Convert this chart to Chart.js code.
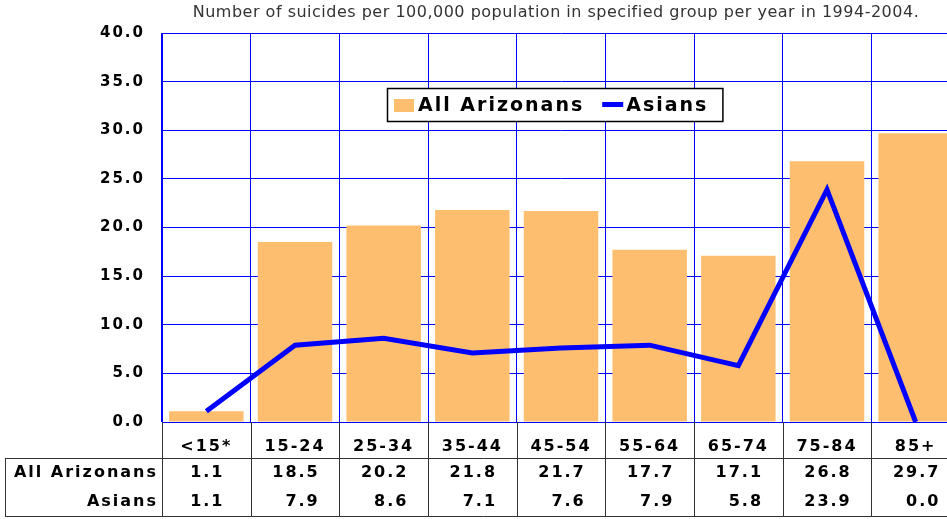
<!DOCTYPE html>
<html>
<head>
<meta charset="utf-8">
<script src="https://cdn.jsdelivr.net/npm/chart.js@4.4.1/dist/chart.umd.min.js"></script>
<style>
  html, body { margin: 0; padding: 0; background: #fff; overflow: hidden; }
  #wrap { width: 962px; height: 519px; }
</style>
</head>
<body>
<div id="wrap"><canvas id="suicide-chart" width="962" height="519"></canvas></div>
<script>
var ageGroups = ['<15*', '15-24', '25-34', '35-44', '45-54', '55-64', '65-74', '75-84', '85+'];
var allArizonans = [1.1, 18.5, 20.2, 21.8, 21.7, 17.7, 17.1, 26.8, 29.7];
var asians = [1.1, 7.9, 8.6, 7.1, 7.6, 7.9, 5.8, 23.9, 0.0];
var yMax = 40;
var yStep = 5;
var titleText = 'Number of suicides per 100,000 population in specified group per year in 1994-2004.';

var boldFont = '700 16px "DejaVu Sans"';

// keeps the wide letter spacing of the original on every text drawn by the chart
var spacingPlugin = {
    id: 'spacing',
    beforeLayout: function (chart) { chart.ctx.letterSpacing = '2px'; },
    beforeDraw: function (chart) { chart.ctx.letterSpacing = '2px'; }
};

var titlePlugin = {
    id: 'topTitle',
    afterDraw: function (chart) {
        var ctx = chart.ctx;
        ctx.save();
        ctx.letterSpacing = '0.5px';
        ctx.font = '400 16px "DejaVu Sans"';
        ctx.fillStyle = '#333';
        ctx.textAlign = 'center';
        ctx.textBaseline = 'middle';
        ctx.fillText(titleText, 556, 13);
        ctx.restore();
    }
};

var legendPlugin = {
    id: 'boxLegend',
    afterDatasetsDraw: function (chart) {
        var ctx = chart.ctx;
        var sets = chart.data.datasets;
        ctx.save();
        ctx.letterSpacing = '2px';
        ctx.font = '700 19px "DejaVu Sans"';
        var widths = sets.map(function (d) { return ctx.measureText(d.label).width; });
        var sw = 21, gapIn = 3, gapOut = 18, padL = 7, padR = 15;
        var total = padL + padR + sets.length * (sw + gapIn) + widths.reduce((a, b) => a + b, 0) + gapOut * (sets.length - 1);
        var cx = 555, cy = 105;
        var left = Math.round(cx - total / 2);
        ctx.fillStyle = '#fff';
        ctx.fillRect(left, cy - 17, total, 34);
        ctx.strokeStyle = '#000';
        ctx.lineWidth = 1.5;
        ctx.strokeRect(left + 0.5, cy - 16.5, total - 1, 33);
        var x = left + padL;
        sets.forEach(function (d, i) {
            if (d.type === 'line') {
                ctx.fillStyle = d.borderColor;
                ctx.fillRect(x, cy - 3, sw, 5);
            } else {
                ctx.fillStyle = d.backgroundColor;
                ctx.fillRect(x, cy - 6, sw - 1, 13);
            }
            x += sw + gapIn;
            ctx.fillStyle = '#000';
            ctx.textAlign = 'left';
            ctx.textBaseline = 'middle';
            ctx.fillText(d.label, x, cy + 1);
            x += widths[i] + gapOut;
        });
        ctx.restore();
    }
};

var tablePlugin = {
    id: 'dataTable',
    afterDraw: function (chart) {
        var ctx = chart.ctx;
        var xs = chart.scales.x;
        var area = chart.chartArea;
        var colW = (area.right - area.left) / ageGroups.length;
        var rowLine = 458, bottom = 516, leftEdge = 5;
        ctx.save();
        ctx.strokeStyle = '#333';
        ctx.lineWidth = 1;
        ctx.beginPath();
        ctx.moveTo(leftEdge, rowLine + 0.5);
        ctx.lineTo(chart.width, rowLine + 0.5);
        ctx.moveTo(leftEdge, bottom + 0.5);
        ctx.lineTo(chart.width, bottom + 0.5);
        ctx.moveTo(leftEdge + 0.5, rowLine);
        ctx.lineTo(leftEdge + 0.5, bottom);
        for (var i = 0; i <= ageGroups.length; i++) {
            var bx = Math.round(area.left + i * colW) + 0.5;
            ctx.moveTo(bx, area.bottom);
            ctx.lineTo(bx, bottom);
        }
        ctx.stroke();

        ctx.letterSpacing = '2px';
        ctx.font = boldFont;
        ctx.fillStyle = '#000';
        ctx.textBaseline = 'middle';
        var rows = [
            { label: 'All Arizonans', values: allArizonans, y: 473 },
            { label: 'Asians', values: asians, y: 502 }
        ];
        rows.forEach(function (r) {
            ctx.textAlign = 'right';
            ctx.fillText(r.label, 158, r.y);
        });
        ageGroups.forEach(function (g, i) {
            var texts = rows.map(function (r) { return r.values[i].toFixed(1); });
            var w = Math.max.apply(null, texts.map(function (t) { return ctx.measureText(t).width; }));
            var right = xs.getPixelForValue(i) + w / 2 + 1;
            rows.forEach(function (r, k) {
                ctx.textAlign = 'right';
                ctx.fillText(texts[k], right, r.y);
            });
        });
        ctx.restore();
    }
};

var ctx = document.getElementById('suicide-chart').getContext('2d');

var suicideChart = new Chart(ctx, {
    data: {
        labels: ageGroups,
        datasets: [{
            type: 'bar',
            label: 'All Arizonans',
            data: allArizonans,
            backgroundColor: '#fdbf6f',
            borderWidth: 0,
            barPercentage: 0.84,
            categoryPercentage: 1,
            order: 2
        }, {
            type: 'line',
            label: 'Asians',
            data: asians,
            borderColor: '#0000ff',
            backgroundColor: '#0000ff',
            borderWidth: 5,
            pointRadius: 0,
            tension: 0,
            order: 1
        }]
    },
    options: {
        responsive: false,
        animation: false,
        layout: {
            padding: { top: 33, right: 2, left: 0, bottom: 0 }
        },
        scales: {
            x: {
                grid: { color: '#0000ff', lineWidth: 1, drawTicks: false, offset: true },
                border: { color: '#0000ff' },
                ticks: {
                    color: '#000',
                    font: { family: 'DejaVu Sans', size: 16, weight: 'bold' },
                    padding: 15,
                    maxRotation: 0,
                    autoSkip: false
                },
                afterFit: function (scale) { scale.height = 97; }
            },
            y: {
                min: 0,
                max: yMax,
                grid: { color: '#0000ff', lineWidth: 1, drawTicks: false },
                border: { color: '#0000ff' },
                ticks: {
                    stepSize: yStep,
                    color: '#000',
                    font: { family: 'DejaVu Sans', size: 15, weight: 'bold' },
                    padding: 17,
                    callback: function (v) { return v.toFixed(1); }
                },
                afterFit: function (scale) { scale.width = 162; }
            }
        },
        plugins: {
            legend: { display: false },
            tooltip: { enabled: false },
            title: { display: false }
        }
    },
    plugins: [spacingPlugin, titlePlugin, legendPlugin, tablePlugin]
});
</script>
</body>
</html>
